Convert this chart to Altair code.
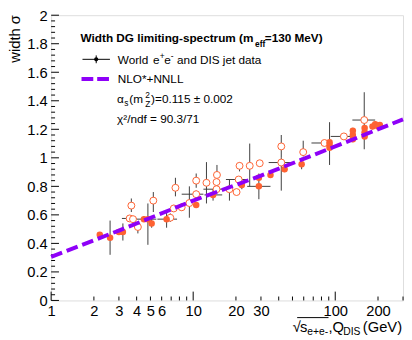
import altair as alt
import pandas as pd

# ---------------- data ----------------
# filled markers
filled_x = [2.2, 2.6, 3.0, 3.2, 4.5, 4.8, 5.1, 6.5, 10.5, 13.8, 22, 29, 29, 35, 44, 58,
            91.2, 91.2, 91.2, 133, 133, 133, 161, 161, 161, 183, 191, 200, 206]
filled_y = [0.46, 0.44, 0.48, 0.48, 0.57, 0.57, 0.54, 0.57, 0.67, 0.74, 0.81, 0.80, 0.86, 0.88, 0.92, 0.955,
            1.07, 1.09, 1.11, 1.13, 1.16, 1.19, 1.15, 1.18, 1.21, 1.22, 1.235, 1.22, 1.23]
filled_ylo = [0.45, 0.32, 0.46, 0.42, 0.55, 0.39, 0.51, 0.51, 0.65, 0.70, 0.78, 0.71, 0.84, 0.86, 0.90, 0.92,
              0.95, 1.07, 1.09, 1.11, 1.14, 1.17, 1.13, 1.16, 1.19, 1.20, 1.215, 1.20, 1.21]
filled_yhi = [0.47, 0.56, 0.50, 0.54, 0.59, 0.68, 0.57, 0.62, 0.69, 0.78, 0.84, 0.89, 0.88, 0.90, 0.94, 1.00,
              1.25, 1.11, 1.13, 1.15, 1.18, 1.21, 1.17, 1.20, 1.23, 1.24, 1.255, 1.24, 1.25]
filled_xlo = [2.2, 2.6, 3.0, 3.2, 4.0, 4.8, 5.1, 5.6, 10.5, 12.0, 22, 24, 29, 35, 44, 58,
              91.2, 91.2, 91.2, 133, 133, 133, 161, 161, 161, 183, 191, 200, 206]
filled_xhi = [2.2, 2.6, 3.0, 3.2, 5.5, 4.8, 5.1, 7.7, 10.5, 16.0, 22, 35, 29, 35, 44, 58,
              91.2, 91.2, 91.2, 133, 133, 133, 161, 161, 161, 183, 191, 200, 206]

# open markers
open_x = [3.57, 3.67, 3.77, 4.08, 5.24, 6.9, 7.3, 7.5, 8.3, 9.4, 10.5, 10.5, 12.4, 14.6, 14.7, 14.6,
          18.0, 20.2, 20.9, 21.2, 25.0, 29.4, 41.7, 41.7, 59.5, 84, 115, 160]
open_y = [0.575, 0.665, 0.57, 0.515, 0.70, 0.58, 0.645, 0.79, 0.653, 0.683, 0.745, 0.84, 0.825, 0.83, 0.88, 0.78,
          0.78, 0.76, 0.848, 0.944, 0.944, 0.962, 1.08, 0.967, 1.04, 1.104, 1.15, 1.265]
open_ylo = [0.56, 0.62, 0.55, 0.47, 0.62, 0.55, 0.62, 0.73, 0.63, 0.58, 0.72, 0.79, 0.68, 0.80, 0.80, 0.76,
            0.70, 0.74, 0.83, 0.905, 0.80, 0.94, 1.00, 0.77, 1.01, 1.09, 1.13, 1.06]
open_yhi = [0.59, 0.715, 0.59, 0.55, 0.76, 0.61, 0.67, 0.86, 0.68, 0.80, 0.77, 0.89, 0.97, 0.86, 0.95, 0.80,
            0.85, 0.78, 0.87, 0.97, 1.10, 0.98, 1.16, 1.00, 1.12, 1.12, 1.17, 1.46]
open_xlo = [3.15, 3.67, 3.77, 4.08, 5.24, 6.9, 7.3, 7.5, 8.3, 9.4, 8.3, 10.5, 12.4, 14.6, 14.7, 11.8,
            18.0, 20.2, 17.0, 21.2, 25.0, 29.4, 41.7, 34.0, 59.5, 68, 93, 132]
open_xhi = [4.0, 3.67, 3.77, 4.08, 5.24, 6.9, 7.3, 7.5, 8.3, 9.4, 11.8, 10.5, 12.4, 14.6, 14.7, 18.0,
            18.0, 20.2, 24.0, 21.2, 25.0, 29.4, 41.7, 52.0, 59.5, 88, 135, 191]

# NLO*+NNLL curve
line_x = [1, 3, 10, 30, 100, 300]
line_y = [0.305, 0.49, 0.70, 0.875, 1.08, 1.27]

# axis ticks / labels
y_major = [0, 0.2, 0.4, 0.6, 0.8, 1.0, 1.2, 1.4, 1.6, 1.8, 2.0]
y_minor = [0.04, 0.08, 0.12, 0.16, 0.24, 0.28, 0.32, 0.36, 0.44, 0.48, 0.52, 0.56,
           0.64, 0.68, 0.72, 0.76, 0.84, 0.88, 0.92, 0.96, 1.04, 1.08, 1.12, 1.16,
           1.24, 1.28, 1.32, 1.36, 1.44, 1.48, 1.52, 1.56, 1.64, 1.68, 1.72, 1.76,
           1.84, 1.88, 1.92, 1.96]
x_major = [1, 10, 100]
x_minor = [2, 3, 4, 5, 6, 7, 8, 9, 20, 30, 40, 50, 60, 70, 80, 90, 200, 300]
x_labels = [1, 2, 3, 4, 5, 6, 10, 20, 30, 100, 200]

# ---------------- styling ----------------
W, H = 359, 291
FONT = "Liberation Sans"
ORANGE = "#fe6232"
PURPLE = "#8e00f8"
EBAR = "#3c3c3c"

xscale = alt.Scale(type="log", domain=[1, 300], nice=False)
yscale = alt.Scale(domain=[0, 2], nice=False, zero=False)
xaxis = alt.Axis(values=x_labels, format="~g", ticks=False, domain=False, grid=False,
                 labelFont=FONT, labelFontSize=15, labelColor="black", labelPadding=3,
                 labelFlush=False, labelOverlap=False)
yaxis = alt.Axis(values=y_major, format="~g", ticks=False, domain=False, grid=False,
                 labelFont=FONT, labelFontSize=15, labelColor="black", labelPadding=4,
                 labelOverlap=False)


def X(f):
    return alt.X(f"{f}:Q", scale=xscale, axis=xaxis, title=None)


def Y(f):
    return alt.Y(f"{f}:Q", scale=yscale, axis=yaxis, title=None)


fdf = pd.DataFrame({"x": filled_x, "y": filled_y, "ylo": filled_ylo, "yhi": filled_yhi,
                    "xlo": filled_xlo, "xhi": filled_xhi})
odf = pd.DataFrame({"x": open_x, "y": open_y, "ylo": open_ylo, "yhi": open_yhi,
                    "xlo": open_xlo, "xhi": open_xhi})
edf = pd.concat([odf, fdf], ignore_index=True)
ldf = pd.DataFrame({"x": line_x, "y": line_y})
one = pd.DataFrame({"k": [0]})

layers = []

# inner ticks
layers.append(alt.Chart(pd.DataFrame({"y": y_major})).mark_rule(color="black", strokeWidth=1)
              .encode(y=Y("y"), x=alt.value(0), x2=alt.value(8)))
layers.append(alt.Chart(pd.DataFrame({"y": y_minor})).mark_rule(color="black", strokeWidth=1)
              .encode(y=Y("y"), x=alt.value(0), x2=alt.value(4)))
layers.append(alt.Chart(pd.DataFrame({"x": x_major})).mark_rule(color="black", strokeWidth=1)
              .encode(x=X("x"), y=alt.value(H), y2=alt.value(H - 9)))
layers.append(alt.Chart(pd.DataFrame({"x": x_minor})).mark_rule(color="black", strokeWidth=1)
              .encode(x=X("x"), y=alt.value(H), y2=alt.value(H - 4)))

# error bars
layers.append(alt.Chart(edf).mark_rule(color=EBAR, strokeWidth=1)
              .encode(x=X("x"), y=Y("ylo"), y2="yhi"))
layers.append(alt.Chart(edf).mark_rule(color=EBAR, strokeWidth=1)
              .encode(x=X("xlo"), x2="xhi", y=Y("y")))

# markers
layers.append(alt.Chart(odf).mark_circle(size=50, fill="white", stroke=ORANGE, strokeWidth=1, opacity=1)
              .encode(x=X("x"), y=Y("y")))
layers.append(alt.Chart(fdf).mark_circle(size=44, color=ORANGE, opacity=1)
              .encode(x=X("x"), y=Y("y")))

# curve
layers.append(alt.Chart(ldf).mark_line(color=PURPLE, strokeWidth=4, strokeDash=[12, 5])
              .encode(x=X("x"), y=Y("y")))


def txt(s, x, y, size=12, weight="normal", align="left", angle=0, baseline="alphabetic"):
    kw = dict(text=s, font=FONT, fontSize=size, fontWeight=weight, align=align,
              baseline=baseline, color="black")
    if angle:
        kw["angle"] = angle
    return alt.Chart(one).mark_text(**kw).encode(x=alt.value(x), y=alt.value(y))


# legend
layers.append(txt("Width DG limiting-spectrum (m", 30, 27.5, 12, "bold"))
layers.append(txt("eff", 208, 32, 8.5, "bold"))
layers.append(txt("=130 MeV)", 218, 27.5, 12, "bold"))

layers.append(alt.Chart(one).mark_rule(color="black", strokeWidth=1)
              .encode(x=alt.value(32), x2=alt.value(60), y=alt.value(45)))
layers.append(alt.Chart(one).mark_rule(color="black", strokeWidth=1)
              .encode(x=alt.value(46), y=alt.value(41), y2=alt.value(49)))
layers.append(alt.Chart(one).mark_circle(size=18, color="black", opacity=1)
              .encode(x=alt.value(46), y=alt.value(45)))
layers.append(txt("World", 68, 49.5))
layers.append(txt("e", 104, 49.5))
layers.append(txt("+", 110.8, 44.5, 8.5))
layers.append(txt("e", 115.3, 49.5))
layers.append(txt("-", 122.1, 44.5, 8.5))
layers.append(txt("and DIS jet data", 128.5, 49.5))

layers.append(alt.Chart(one).mark_rule(color=PURPLE, strokeWidth=4, strokeDash=[12, 4])
              .encode(x=alt.value(31), x2=alt.value(59), y=alt.value(65)))
layers.append(txt("NLO*+NNLL", 68, 69.5))

layers.append(txt("\u03b1", 67.3, 89.5))
layers.append(txt("s", 74.7, 92.5, 8.5))
layers.append(txt("(m", 79.7, 89.5))
layers.append(txt("2", 96, 84.5, 8.5))
layers.append(txt("Z", 96, 93.5, 8.5))
layers.append(txt(")=0.115 \u00b1 0.002", 102, 89.5))
layers.append(txt("\u03c7\u00b2/ndf = 90.3/71", 67.3, 109.7))

# axis titles
layers.append(txt("width \u03c3", -31.3, 0, 15, align="right", angle=270))
layers.append(txt("\u221a", 246.5, 323, 15))
layers.append(alt.Chart(one).mark_rule(color="black", strokeWidth=1)
              .encode(x=alt.value(251), x2=alt.value(283), y=alt.value(308.5)))
layers.append(txt("s", 254, 323, 15))
layers.append(txt("e+e-", 261.3, 326.5, 10.5))
layers.append(txt(",Q", 283, 323, 15))
layers.append(txt("DIS", 298, 326.5, 10.5))
layers.append(txt("(GeV)", 358, 323, 15, align="right"))

chart = (alt.layer(*layers)
         .properties(width=W, height=H,
                     padding={"left": 44, "top": 4, "right": 1, "bottom": 37},
                     autosize=alt.AutoSizeParams(type="none"))
         .configure_view(stroke="black", strokeWidth=1)
         .configure(background="white"))

chart.save("out.html", embed_options={"renderer": "svg", "actions": False})
